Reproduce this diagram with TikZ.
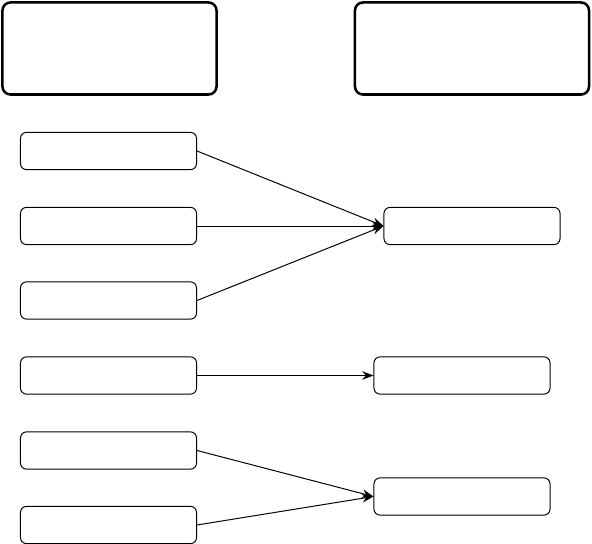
\documentclass[tikz,border=0pt]{standalone}
\usepackage{tikz}
\usetikzlibrary{
    arrows.meta,
    positioning
}
\tikzset{
    % --- Large panel (top row) ---
    panel/.style = {
        rectangle, draw, line width=1.8pt,
        rounded corners=0.2cm,
        minimum height=2.3cm
    },
    % --- Small rounded block ---
    block/.style = {
        rectangle, draw, line width=0.7pt,
        rounded corners=0.15cm,
        minimum width=4.4cm, minimum height=0.93cm
    },
    % --- Data flow arrow ---
    data arrow/.style = {
        -{Stealth[length=8pt, width=6pt]}, line width=0.7pt
    }
}

\begin{document}
\begin{tikzpicture}[x=0.025cm, y=-0.025cm]

% ---------------------------------------------------------
% Frame
% ---------------------------------------------------------
\useasboundingbox (0, 0) rectangle (592, 544);

% ---------------------------------------------------------
% Top panels
% ---------------------------------------------------------
\node[panel, minimum width=5.35cm] (PanelL) at (109.5, 48.5) {};
\node[panel, minimum width=5.85cm] (PanelR) at (472, 48.5) {};

% ---------------------------------------------------------
% Sources (left column)
% ---------------------------------------------------------
\node[block] (Src1) at (108.5, 151) {};
\node[block] (Src2) at (108.5, 226) {};
\node[block] (Src3) at (108.5, 300.5) {};
\node[block] (Src4) at (108.5, 375.5) {};
\node[block] (Src5) at (108.5, 450.5) {};
\node[block] (Src6) at (108.5, 525) {};

% ---------------------------------------------------------
% Targets (right column)
% ---------------------------------------------------------
\node[block] (Dst1) at (472, 226) {};
\node[block] (Dst2) at (462, 375.5) {};
\node[block] (Dst3) at (462, 496.5) {};

% ---------------------------------------------------------
% Connections
% ---------------------------------------------------------
\draw[data arrow] (Src1.east) -- (Dst1.west);
\draw[data arrow] (Src2.east) -- (Dst1.west);
\draw[data arrow] (Src3.east) -- (Dst1.west);

\draw[data arrow] (Src4.east) -- (Dst2.west);

\draw[data arrow] (Src5.east) -- (Dst3.west);
\draw[data arrow] (Src6.east) -- (Dst3.west);

\end{tikzpicture}
\end{document}
